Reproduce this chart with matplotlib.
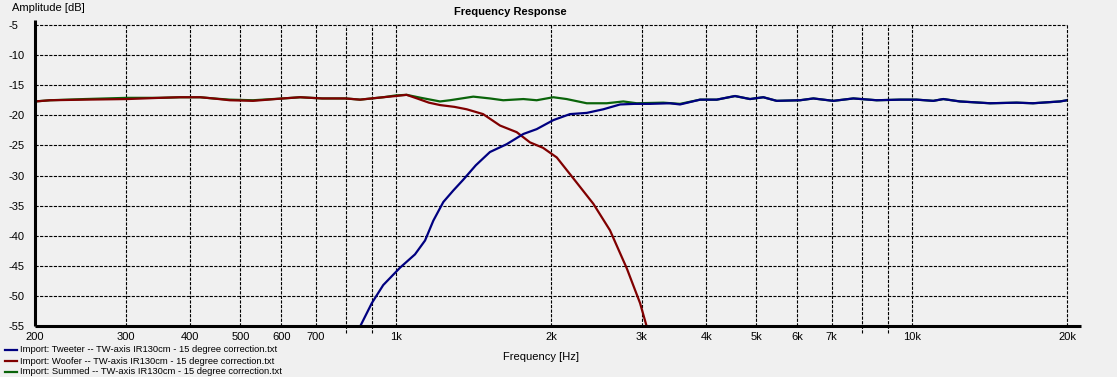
import matplotlib
matplotlib.use("Agg")
import matplotlib.pyplot as plt
from matplotlib.lines import Line2D

plt.rcParams['font.family'] = ['Liberation Sans', 'DejaVu Sans']
plt.rcParams['lines.scale_dashes'] = False

# ---- data ----
woofer_f = [200, 214, 250, 302, 349, 382, 418, 443, 477, 529, 605, 653, 720, 800, 853, 946, 1000, 1050,
            1100, 1160, 1219, 1300, 1373, 1477, 1593, 1716, 1821, 1930, 2052, 2206, 2416, 2602, 2804, 2976, 3066]
woofer_db = [-17.7, -17.5, -17.4, -17.3, -17.1, -17.0, -17.0, -17.2, -17.5, -17.6, -17.2, -17.0, -17.2, -17.2,
             -17.4, -17.0, -16.8, -16.6, -17.2, -17.9, -18.3, -18.6, -19.0, -19.8, -21.7, -22.8, -24.5, -25.4,
             -27.0, -30.4, -34.7, -39.1, -45.4, -51.2, -55.1]

tweeter_f = [853, 899, 946, 1020, 1090, 1140, 1183, 1237, 1293, 1352, 1430, 1523, 1641, 1768, 1876, 2021, 2177,
             2346, 2526, 2722, 2900, 3111, 3402, 3557, 3890, 4190, 4546, 4861, 5158, 5476, 6076, 6449, 7050, 7709,
             8557, 9494, 10226, 11014, 11516, 12404, 14186, 15980, 17184, 19384, 20000]
tweeter_db = [-55.1, -51.2, -48.2, -45.3, -43.1, -40.8, -37.5, -34.4, -32.5, -30.7, -28.3, -26.1, -24.8, -23.1,
              -22.3, -20.8, -19.8, -19.6, -19.0, -18.2, -18.1, -18.1, -18.0, -18.2, -17.4, -17.4, -16.8, -17.3,
              -17.0, -17.6, -17.5, -17.2, -17.6, -17.2, -17.5, -17.4, -17.4, -17.6, -17.3, -17.7, -18.0, -17.9,
              -18.0, -17.7, -17.5]

summed_f = [200, 214, 250, 302, 349, 382, 418, 443, 477, 529, 605, 653, 720, 800, 853, 946, 1000, 1050, 1120,
            1219, 1274, 1414, 1523, 1616, 1768, 1876, 2021, 2144, 2346, 2565, 2762, 2932, 3302, 3557, 3890, 4190,
            4546, 4861, 5158, 5476, 6076, 6449, 7050, 7709, 8557, 9494, 10226, 11014, 11516, 12404, 14186, 15980,
            17184, 19384, 20000]
summed_db = [-17.7, -17.5, -17.3, -17.1, -17.1, -17.0, -17.0, -17.2, -17.4, -17.5, -17.2, -17.0, -17.2, -17.2,
             -17.4, -17.0, -16.7, -16.6, -17.1, -17.7, -17.5, -16.9, -17.2, -17.5, -17.3, -17.5, -17.0, -17.3,
             -18.0, -18.0, -17.7, -18.0, -17.9, -18.1, -17.4, -17.4, -16.8, -17.3, -17.0, -17.6, -17.5, -17.2,
             -17.6, -17.2, -17.5, -17.4, -17.4, -17.6, -17.3, -17.7, -18.0, -17.9, -18.0, -17.7, -17.5]

labels = ["Import: Tweeter -- TW-axis IR130cm - 15 degree correction.txt",
          "Import: Woofer -- TW-axis IR130cm - 15 degree correction.txt",
          "Import: Summed -- TW-axis IR130cm - 15 degree correction.txt"]
colors = ["#000080", "#800000", "#0a640a"]

xtick_vals = [200, 300, 400, 500, 600, 700, 1000, 2000, 3000, 4000, 5000, 6000, 7000, 10000, 20000]
xtick_labels = ["200", "300", "400", "500", "600", "700", "1k", "2k", "3k", "4k", "5k", "6k", "7k", "10k", "20k"]
grid_x = [300, 400, 500, 600, 700, 800, 900, 1000, 2000, 3000, 4000, 5000, 6000, 7000, 8000, 9000, 10000, 20000]
unlabeled_x = [800, 900, 8000, 9000]
ytick_vals = [-5, -10, -15, -20, -25, -30, -35, -40, -45, -50, -55]

# ---- figure ----
W, H = 1117, 377
bg = "#f0f0f0"
fig = plt.figure(figsize=(W / 100, H / 100), dpi=100, facecolor=bg)
ax_w, ax_h = 1067 - 35, 326 - 25
ax = fig.add_axes([35 / W, (H - 326) / H, ax_w / W, ax_h / H], facecolor=bg)

ax.set_xscale('log')
ax.set_xlim(200, 20000)
ax.set_ylim(-55, -5)

dash = (0, (2.3, 1.0))
for x in grid_x:
    ymin = -7 / ax_h if x in unlabeled_x else 0
    ax.axvline(x, ymin=ymin, ymax=1, color='black', lw=0.8, ls=dash, clip_on=False, zorder=1)
for y in ytick_vals[:-1]:
    ax.axhline(y, color='black', lw=0.8, ls=dash, clip_on=False, zorder=1)

ax.plot(summed_f, summed_db, color=colors[2], lw=1.6, zorder=3)
ax.plot(woofer_f, woofer_db, color=colors[1], lw=1.6, zorder=4)
ax.plot(tweeter_f, tweeter_db, color=colors[0], lw=1.6, zorder=5)

for s in ['top', 'right', 'left', 'bottom']:
    ax.spines[s].set_visible(False)
# axis lines (bottom extends a bit past 20k, left a bit above -5)
ax.add_line(Line2D([0, 1 + 14 / ax_w], [0, 0], transform=ax.transAxes, color='black', lw=2.2,
                   clip_on=False, zorder=6, solid_capstyle='butt'))
ax.add_line(Line2D([0, 0], [0, 1 + 5 / ax_h], transform=ax.transAxes, color='black', lw=2.2,
                   clip_on=False, zorder=6, solid_capstyle='butt'))

ax.set_xticks(xtick_vals)
ax.set_xticklabels(xtick_labels)
ax.xaxis.set_minor_locator(matplotlib.ticker.NullLocator())
ax.set_yticks(ytick_vals)
ax.set_yticklabels([str(v) for v in ytick_vals])
ax.tick_params(axis='both', length=0, labelsize=8)
ax.tick_params(axis='x', pad=4)
ax.tick_params(axis='y', pad=19.4)
for lbl in ax.get_yticklabels():
    lbl.set_horizontalalignment('left')

fig.text(12 / W, 1 - 8 / H, "Amplitude [dB]", fontsize=8, ha='left', va='center')
fig.text(510 / W, 1 - 12 / H, "Frequency Response", fontsize=8, fontweight='bold', ha='center', va='center')
fig.text(541 / W, 1 - 357 / H, "Frequency [Hz]", fontsize=8, ha='center', va='center')

for i, (lab, c) in enumerate(zip(labels, colors)):
    yy = 1 - (350 + 11 * i) / H
    fig.add_artist(Line2D([5 / W, 17 / W], [yy, yy], color=c, lw=1.6, transform=fig.transFigure))
    fig.text(20 / W, yy, lab, fontsize=6.75, ha='left', va='center')

fig.savefig("out.png", dpi=100, facecolor=bg)
